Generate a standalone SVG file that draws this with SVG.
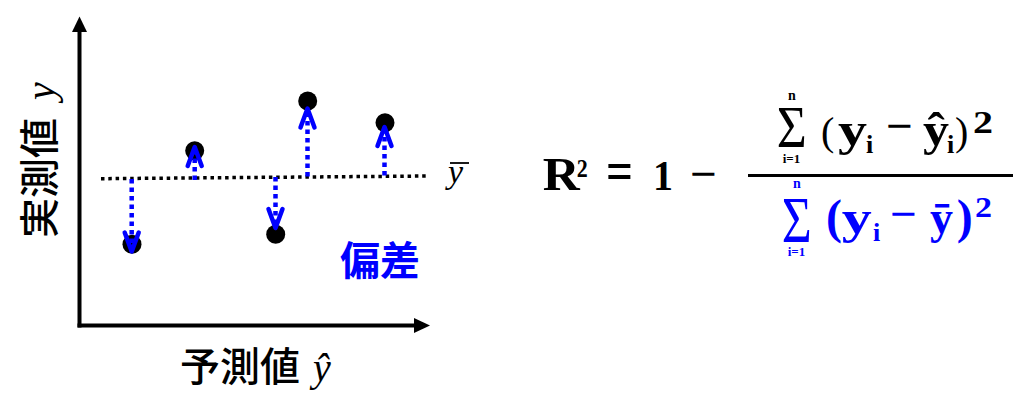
<svg xmlns="http://www.w3.org/2000/svg" width="1024" height="418" viewBox="0 0 1024 418">
<style>
.cjk{font-family:"Noto Sans CJK JP","Noto Sans",sans-serif;font-size:40px;fill:#000}
.it{font-family:"Liberation Serif",serif;font-style:italic;font-weight:normal}
.m{font-family:"Liberation Serif",serif;font-weight:bold;fill:#000}
.mr{font-family:"Liberation Serif",serif;font-weight:normal;fill:#000}
.blue{fill:#0000ff}
.dev{stroke:#0000ff;stroke-width:4.5;stroke-dasharray:4.5 4;fill:none;marker-end:url(#chev)}
.pt{fill:#000}
</style>
<defs>
<marker id="chev" markerUnits="userSpaceOnUse" orient="auto" markerWidth="30" markerHeight="30" refX="0" refY="0" viewBox="-25 -15 30 30" overflow="visible">
<path d="M-19,-7 L0,0 L-19,7" fill="none" stroke="#0000ff" stroke-width="4.5" stroke-linecap="round" stroke-linejoin="round"/>
</marker>
</defs>
<rect width="1024" height="418" fill="#fff"/>
<g id="axes">
<line x1="79.5" y1="327.5" x2="79.5" y2="30" stroke="#000" stroke-width="4"/>
<polygon points="79.5,16.5 72,32 87,32" fill="#000"/>
<line x1="77.5" y1="325.5" x2="416" y2="325.5" stroke="#000" stroke-width="4"/>
<polygon points="430,325.5 414,318 414,333" fill="#000"/>
</g>
<g id="mean-line">
<line x1="101" y1="178.7" x2="428" y2="176" stroke="#000" stroke-width="3.5" stroke-dasharray="3.5 3.8"/>
<text class="it" x="448" y="183" font-size="34">y</text>
<line x1="450" y1="163" x2="469" y2="163" stroke="#000" stroke-width="1.8"/>
</g>
<g id="points">
<circle class="pt" cx="132" cy="244.3" r="9.5"/>
<circle class="pt" cx="194.7" cy="150.7" r="9.5"/>
<circle class="pt" cx="275.7" cy="234.3" r="9.5"/>
<circle class="pt" cx="307.7" cy="101" r="9.5"/>
<circle class="pt" cx="385" cy="122.7" r="9.5"/>
</g>
<g id="connectors">
<line class="dev" x1="131.7" y1="179" x2="131.7" y2="251.5"/>
<line class="dev" x1="194.7" y1="180" x2="194.7" y2="147"/>
<line class="dev" x1="275.5" y1="177" x2="275.5" y2="228"/>
<line class="dev" x1="307.5" y1="176.5" x2="307.5" y2="108.5"/>
<line class="dev" x1="384.5" y1="175.5" x2="384.5" y2="127"/>
</g>
<g id="label-y">
<text class="cjk" font-weight="500" transform="translate(54,238) rotate(-90)" x="0" y="0">実測値<tspan class="it" x="138">y</tspan></text>
</g>
<g id="label-x">
<text class="cjk" font-weight="500" x="180" y="381">予測値<tspan class="it" x="313">ŷ</tspan></text>
</g>
<g id="label-dev">
<text class="cjk blue" font-weight="700" x="340" y="275">偏差</text>
</g>
<g id="formula">
<text class="m" x="542.7" y="190" font-size="46" textLength="37" lengthAdjust="spacingAndGlyphs">R</text>
<text class="m" x="576.7" y="177" font-size="26" textLength="11" lengthAdjust="spacingAndGlyphs">2</text>
<text class="m" x="606" y="190" font-size="56" textLength="27" lengthAdjust="spacingAndGlyphs">=</text>
<text class="m" x="653" y="190" font-size="43" textLength="20" lengthAdjust="spacingAndGlyphs">1</text>
<text class="m" x="690" y="188" font-size="42" textLength="27" lengthAdjust="spacingAndGlyphs">−</text>
<line x1="748" y1="175.5" x2="1013" y2="175.5" stroke="#000" stroke-width="3"/>
<g id="numerator">
<text class="mr" x="776.7" y="147" font-size="60" textLength="30" lengthAdjust="spacingAndGlyphs">Σ</text>
<text class="m" x="792" y="100" font-size="14" text-anchor="middle">n</text>
<text class="m" x="791.5" y="163" font-size="13" text-anchor="middle">i=1</text>
<text class="mr" x="821" y="145" font-size="40">(</text>
<text class="m" x="838" y="145" font-size="46" textLength="29" lengthAdjust="spacingAndGlyphs">y</text>
<text class="m" x="866" y="153" font-size="26">i</text>
<text class="m" x="886" y="140" font-size="42" textLength="27" lengthAdjust="spacingAndGlyphs">−</text>
<text class="m" x="923" y="145" font-size="46" textLength="26" lengthAdjust="spacingAndGlyphs">ŷ</text>
<text class="m" x="947" y="153" font-size="26">i</text>
<text class="mr" x="955" y="145" font-size="40">)</text>
<text class="m" x="973" y="133" font-size="32" textLength="20" lengthAdjust="spacingAndGlyphs">2</text>
</g>
<g id="denominator">
<text class="mr blue" x="781.7" y="241.7" font-size="66" textLength="30" lengthAdjust="spacingAndGlyphs">Σ</text>
<text class="m blue" x="797" y="188" font-size="14" text-anchor="middle">n</text>
<text class="m blue" x="796.5" y="256" font-size="13" text-anchor="middle">i=1</text>
<text class="m blue" x="826" y="233" font-size="48">(</text>
<text class="m blue" x="841.7" y="233" font-size="46" textLength="30" lengthAdjust="spacingAndGlyphs">y</text>
<text class="m blue" x="873" y="241" font-size="26">i</text>
<text class="m blue" x="890" y="228" font-size="42" textLength="27" lengthAdjust="spacingAndGlyphs">−</text>
<text class="m blue" x="930" y="233" font-size="46" textLength="23" lengthAdjust="spacingAndGlyphs">ȳ</text>
<text class="m blue" x="956.7" y="233" font-size="48">)</text>
<text class="m blue" x="975" y="217" font-size="30" textLength="17" lengthAdjust="spacingAndGlyphs">2</text>
</g>
</g>
</svg>
